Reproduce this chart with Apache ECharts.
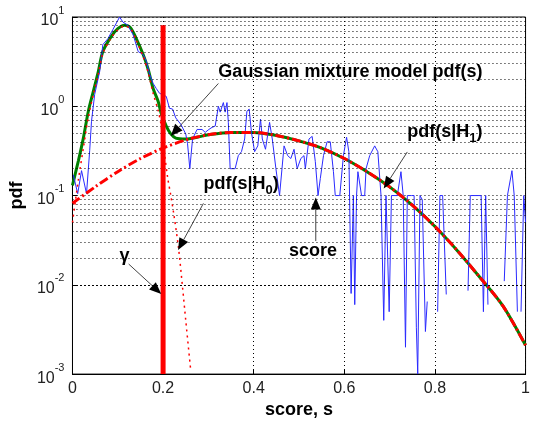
<!DOCTYPE html>
<html>
<head>
<meta charset="utf-8">
<script src="https://cdn.jsdelivr.net/npm/echarts@6/dist/echarts.min.js"></script>
<style>
  html, body { margin: 0; padding: 0; background: #fff; }
  #chart { width: 533px; height: 424px; }
</style>
</head>
<body>
<div id="chart"></div>
<script>
// x ticks and y decades
const xTicks = [0, 0.2, 0.4, 0.6, 0.8, 1];
const yDecades = [0.001, 0.01, 0.1, 1, 10];

// Gaussian mixture model pdf(s)  [s, pdf]
const mixture = [
  [0, 0.13], [0.013, 0.245], [0.024, 0.44], [0.035, 0.88], [0.046, 1.47], [0.057, 2.45],
  [0.067, 4.1], [0.085, 6.0], [0.1, 7.4], [0.115, 8.1], [0.128, 7.6], [0.141, 5.7],
  [0.156, 3.8], [0.167, 2.6], [0.178, 1.58], [0.189, 1.14], [0.196, 0.83], [0.207, 0.6],
  [0.217, 0.49], [0.228, 0.44], [0.25, 0.43], [0.275, 0.45], [0.3, 0.48], [0.35, 0.51],
  [0.4, 0.51], [0.45, 0.47], [0.5, 0.41], [0.55, 0.34], [0.6, 0.26], [0.65, 0.185],
  [0.7, 0.125], [0.75, 0.078], [0.8, 0.045], [0.85, 0.024], [0.9, 0.012], [0.95, 0.0058],
  [1.0, 0.0021]
];

// pdf(s|H1)
const pdfH1 = [
  [0, 0.082], [0.05, 0.125], [0.1, 0.185], [0.15, 0.26], [0.2, 0.34], [0.25, 0.42],
  [0.3, 0.48], [0.35, 0.51], [0.4, 0.51], [0.45, 0.47], [0.5, 0.41], [0.55, 0.34],
  [0.6, 0.26], [0.65, 0.185], [0.7, 0.125], [0.75, 0.078], [0.8, 0.045], [0.85, 0.024],
  [0.9, 0.012], [0.95, 0.0058], [1.0, 0.0021]
];

// pdf(s|H0)
const pdfH0 = [
  [0, 0.05], [0.013, 0.15], [0.024, 0.34], [0.035, 0.76], [0.046, 1.35], [0.057, 2.3],
  [0.067, 3.9], [0.085, 5.8], [0.1, 7.2], [0.115, 7.9], [0.128, 7.4], [0.141, 5.5],
  [0.156, 3.6], [0.167, 2.4], [0.178, 1.4], [0.189, 0.9], [0.196, 0.6], [0.203, 0.3],
  [0.21, 0.16], [0.217, 0.1], [0.224, 0.06], [0.234, 0.026], [0.243, 0.0093],
  [0.25, 0.004], [0.261, 0.0011]
];

// score histogram (null = empty bin)
const score = [
  [0.002, 0.17], [0.0115, 0.105], [0.02, 0.19], [0.031, 0.105], [0.038, 0.32], [0.042, 0.68],
  [0.049, 1.36], [0.06, 2.45], [0.067, 4.9], [0.078, 5.7], [0.089, 7.2], [0.104, 10],
  [0.111, 8.8], [0.122, 8.1], [0.134, 6.3], [0.145, 4.1], [0.156, 3.8], [0.163, 3.2],
  [0.17, 2.3], [0.178, 1.8], [0.185, 1.58], [0.192, 1.4], [0.207, 1.29], [0.214, 0.95],
  [0.221, 0.93], [0.228, 0.74], [0.239, 0.63], [0.25, 0.49], [0.254, 0.38], [0.259, 0.2],
  [0.265, 0.43], [0.275, 0.55], [0.286, 0.55], [0.293, 0.51], [0.301, 0.55], [0.308, 0.58],
  [0.315, 0.6], [0.322, 1.0], [0.326, 0.86], [0.333, 1.1], [0.337, 0.86], [0.341, 1.1],
  [0.344, 0.66], [0.348, 0.2], [0.359, 0.2], [0.366, 0.28], [0.373, 0.31], [0.38, 0.43],
  [0.385, 0.88], [0.39, 0.93], [0.395, 0.51], [0.402, 0.31], [0.409, 0.36], [0.415, 0.72],
  [0.419, 0.43], [0.426, 0.33], [0.435, 0.66], [0.441, 0.43], [0.449, 0.2], [0.457, 0.1],
  [0.46, 0.1], [0.467, 0.36], [0.475, 0.28], [0.482, 0.26], [0.489, 0.33], [0.496, 0.2],
  [0.504, 0.26], [0.511, 0.28], [0.514, 0.2], [0.522, 0.43], [0.529, 0.46], [0.536, 0.24],
  [0.542, 0.1], [0.547, 0.155], [0.554, 0.28], [0.562, 0.4], [0.569, 0.4], [0.576, 0.185],
  [0.58, 0.1], [0.59, 0.1], [0.598, 0.28], [0.605, 0.45], [0.61, 0.31], [0.615, 0.008],
  [0.62, 0.1], [0.623, 0.006], [0.627, 0.1], [0.63, 0.185], [0.638, 0.1], [0.645, 0.1],
  [0.648, 0.2], [0.656, 0.28], [0.667, 0.36], [0.674, 0.31], [0.681, 0.1], [0.687, 0.004],
  [0.692, 0.1], [0.699, 0.005], [0.704, 0.1], [0.717, 0.1], [0.725, 0.185], [0.73, 0.1],
  [0.735, 0.002], [0.739, 0.1], [0.748, 0.1], [0.754, 0.1], [0.759, 0.0033], [0.762, 0.001],
  [0.767, 0.1], [0.772, 0.09], [0.779, 0.003], [0.783, 0.0065], [0.79, null],
  [0.806, 0.005], [0.811, 0.1], [0.817, 0.1], [0.825, 0.0078], [0.85, null],
  [0.873, 0.0086], [0.878, 0.1], [0.902, 0.1], [0.907, 0.005], [0.912, 0.1], [0.917, 0.006],
  [0.93, null],
  [0.953, 0.011], [0.96, 0.1], [0.97, 0.19], [0.975, 0.1], [0.982, 0.005], [0.986, null],
  [0.99, 0.005], [0.996, 0.1], [1.0, 0.05]
];

// decision threshold gamma
const gamma = 0.2;
const gammaLine = [[gamma, 8.1], [gamma, 0.001]];

// minor log grid lines
const minorY = [];
[0.001, 0.01, 0.1, 1].forEach(d => {
  for (let k = 2; k <= 9; k++) minorY.push(+(d * k).toPrecision(3));
});

const FONT = 'Liberation Sans, Arial, sans-serif';
const dotted = { color: '#000', width: 1, type: [1, 3] };

const chart = echarts.init(document.getElementById('chart'), null, { renderer: 'canvas' });

chart.setOption({
  animation: false,
  backgroundColor: '#fff',
  textStyle: { fontFamily: FONT },
  grid: {
    left: 70, right: 3, top: 17, bottom: 47,
    show: true, borderColor: '#000', borderWidth: 1, backgroundColor: '#fff'
  },
  xAxis: {
    type: 'value', min: 0, max: 1, interval: 0.2,
    name: 'score, s', nameLocation: 'middle', nameGap: 25,
    nameTextStyle: { fontSize: 18, fontWeight: 'bold', color: '#000', fontFamily: FONT },
    axisLine: { show: true, lineStyle: { color: '#000' } },
    axisTick: { show: true, inside: true, length: 5, lineStyle: { color: '#000' } },
    axisLabel: {
      fontSize: 16, color: '#222', margin: 6, fontFamily: FONT,
      formatter: v => (xTicks.indexOf(+v.toFixed(1)) >= 0 ? String(+v.toFixed(1)) : '')
    },
    splitLine: { show: true, lineStyle: dotted }
  },
  yAxis: {
    type: 'log', logBase: 10, min: 0.001, max: 10,
    name: 'pdf', nameLocation: 'middle', nameGap: 42, nameRotate: 90,
    nameTextStyle: { fontSize: 18, fontWeight: 'bold', color: '#000', fontFamily: FONT },
    axisLine: { show: true, lineStyle: { color: '#000' } },
    axisTick: { show: true, inside: true, length: 5, lineStyle: { color: '#000' } },
    axisLabel: {
      margin: 8, fontFamily: FONT,
      formatter: v => '{b|10}{e|' + Math.round(Math.log10(v)) + '}',
      rich: {
        b: { fontSize: 16, color: '#222', fontFamily: FONT, verticalAlign: 'bottom', lineHeight: 24 },
        e: { fontSize: 11, color: '#222', fontFamily: FONT, verticalAlign: 'top', lineHeight: 24 }
      }
    },
    splitLine: { show: true, lineStyle: dotted }
  },
  series: [
    {
      name: 'grid', type: 'line', data: [], silent: true,
      markLine: {
        silent: true, symbol: 'none', animation: false,
        label: { show: false },
        lineStyle: dotted,
        data: minorY.map(v => ({ yAxis: v }))
      }
    },
    {
      name: 'mixture', type: 'line', data: mixture, showSymbol: false, smooth: 0.3,
      lineStyle: { color: '#008000', width: 3 }, z: 3
    },
    {
      name: 'score', type: 'line', data: score, showSymbol: false, connectNulls: false,
      lineStyle: { color: '#2a2aff', width: 1 }, z: 4
    },
    {
      name: 'H1', type: 'line', data: pdfH1, showSymbol: false, smooth: 0.3,
      lineStyle: { color: '#ff0000', width: 3, type: [9, 3, 2, 3] }, z: 5
    },
    {
      name: 'H0', type: 'line', data: pdfH0, showSymbol: false, smooth: 0.3,
      lineStyle: { color: '#ff0000', width: 1.5, type: [2, 4] }, z: 5
    },
    {
      name: 'gamma', type: 'line', data: gammaLine, showSymbol: false,
      lineStyle: { color: '#ff0000', width: 5 }, z: 6
    }
  ]
});

// annotations in data coords: text anchor and arrow tail -> head
const notes = [
  { text: '{a|Gaussian mixture model pdf(s)}', at: [0.322, 2.27], align: 'left',
    from: [0.322, 1.8], to: [0.217, 0.464] },
  { text: '{a|pdf(s|H}{s|1}{a|)}', at: [0.739, 0.489], align: 'left',
    from: [0.739, 0.308], to: [0.687, 0.12] },
  { text: '{a|pdf(s|H}{s|0}{a|)}', at: [0.289, 0.129], align: 'left',
    from: [0.289, 0.0817], to: [0.233, 0.0245] },
  { text: '{a|score}', at: [0.478, 0.0227], align: 'left',
    from: [0.537, 0.0309], to: [0.537, 0.095] },
  { text: '{a|γ}', at: [0.115, 0.02], align: 'center',
    from: [0.124, 0.0171], to: [0.196, 0.0079] }
];

const rich = {
  a: { fontSize: 18, fontWeight: 'bold', color: '#000', fontFamily: FONT, lineHeight: 22, verticalAlign: 'top' },
  s: { fontSize: 13, fontWeight: 'bold', color: '#000', fontFamily: FONT, lineHeight: 12, verticalAlign: 'bottom' }
};

function arrow(p1, p2) {
  const dx = p2[0] - p1[0], dy = p2[1] - p1[1];
  const len = Math.sqrt(dx * dx + dy * dy);
  const ux = dx / len, uy = dy / len;
  const hl = 12, hw = 5;
  const bx = p2[0] - ux * hl, by = p2[1] - uy * hl;
  return [
    { type: 'line', shape: { x1: p1[0], y1: p1[1], x2: bx, y2: by },
      style: { stroke: '#444', lineWidth: 1 }, z: 20 },
    { type: 'polygon', shape: { points: [p2, [bx - uy * hw, by + ux * hw], [bx + uy * hw, by - ux * hw]] },
      style: { fill: '#000' }, z: 20 }
  ];
}

const elements = [];
notes.forEach(n => {
  const p = chart.convertToPixel({ gridIndex: 0 }, n.at);
  elements.push({
    type: 'text', x: p[0], y: p[1], z: 21,
    style: { text: n.text, rich: rich, align: n.align, verticalAlign: 'middle', fontFamily: FONT }
  });
  const a = chart.convertToPixel({ gridIndex: 0 }, n.from);
  const b = chart.convertToPixel({ gridIndex: 0 }, n.to);
  arrow(a, b).forEach(e => elements.push(e));
});
chart.setOption({ graphic: { elements: elements } });
</script>
</body>
</html>
